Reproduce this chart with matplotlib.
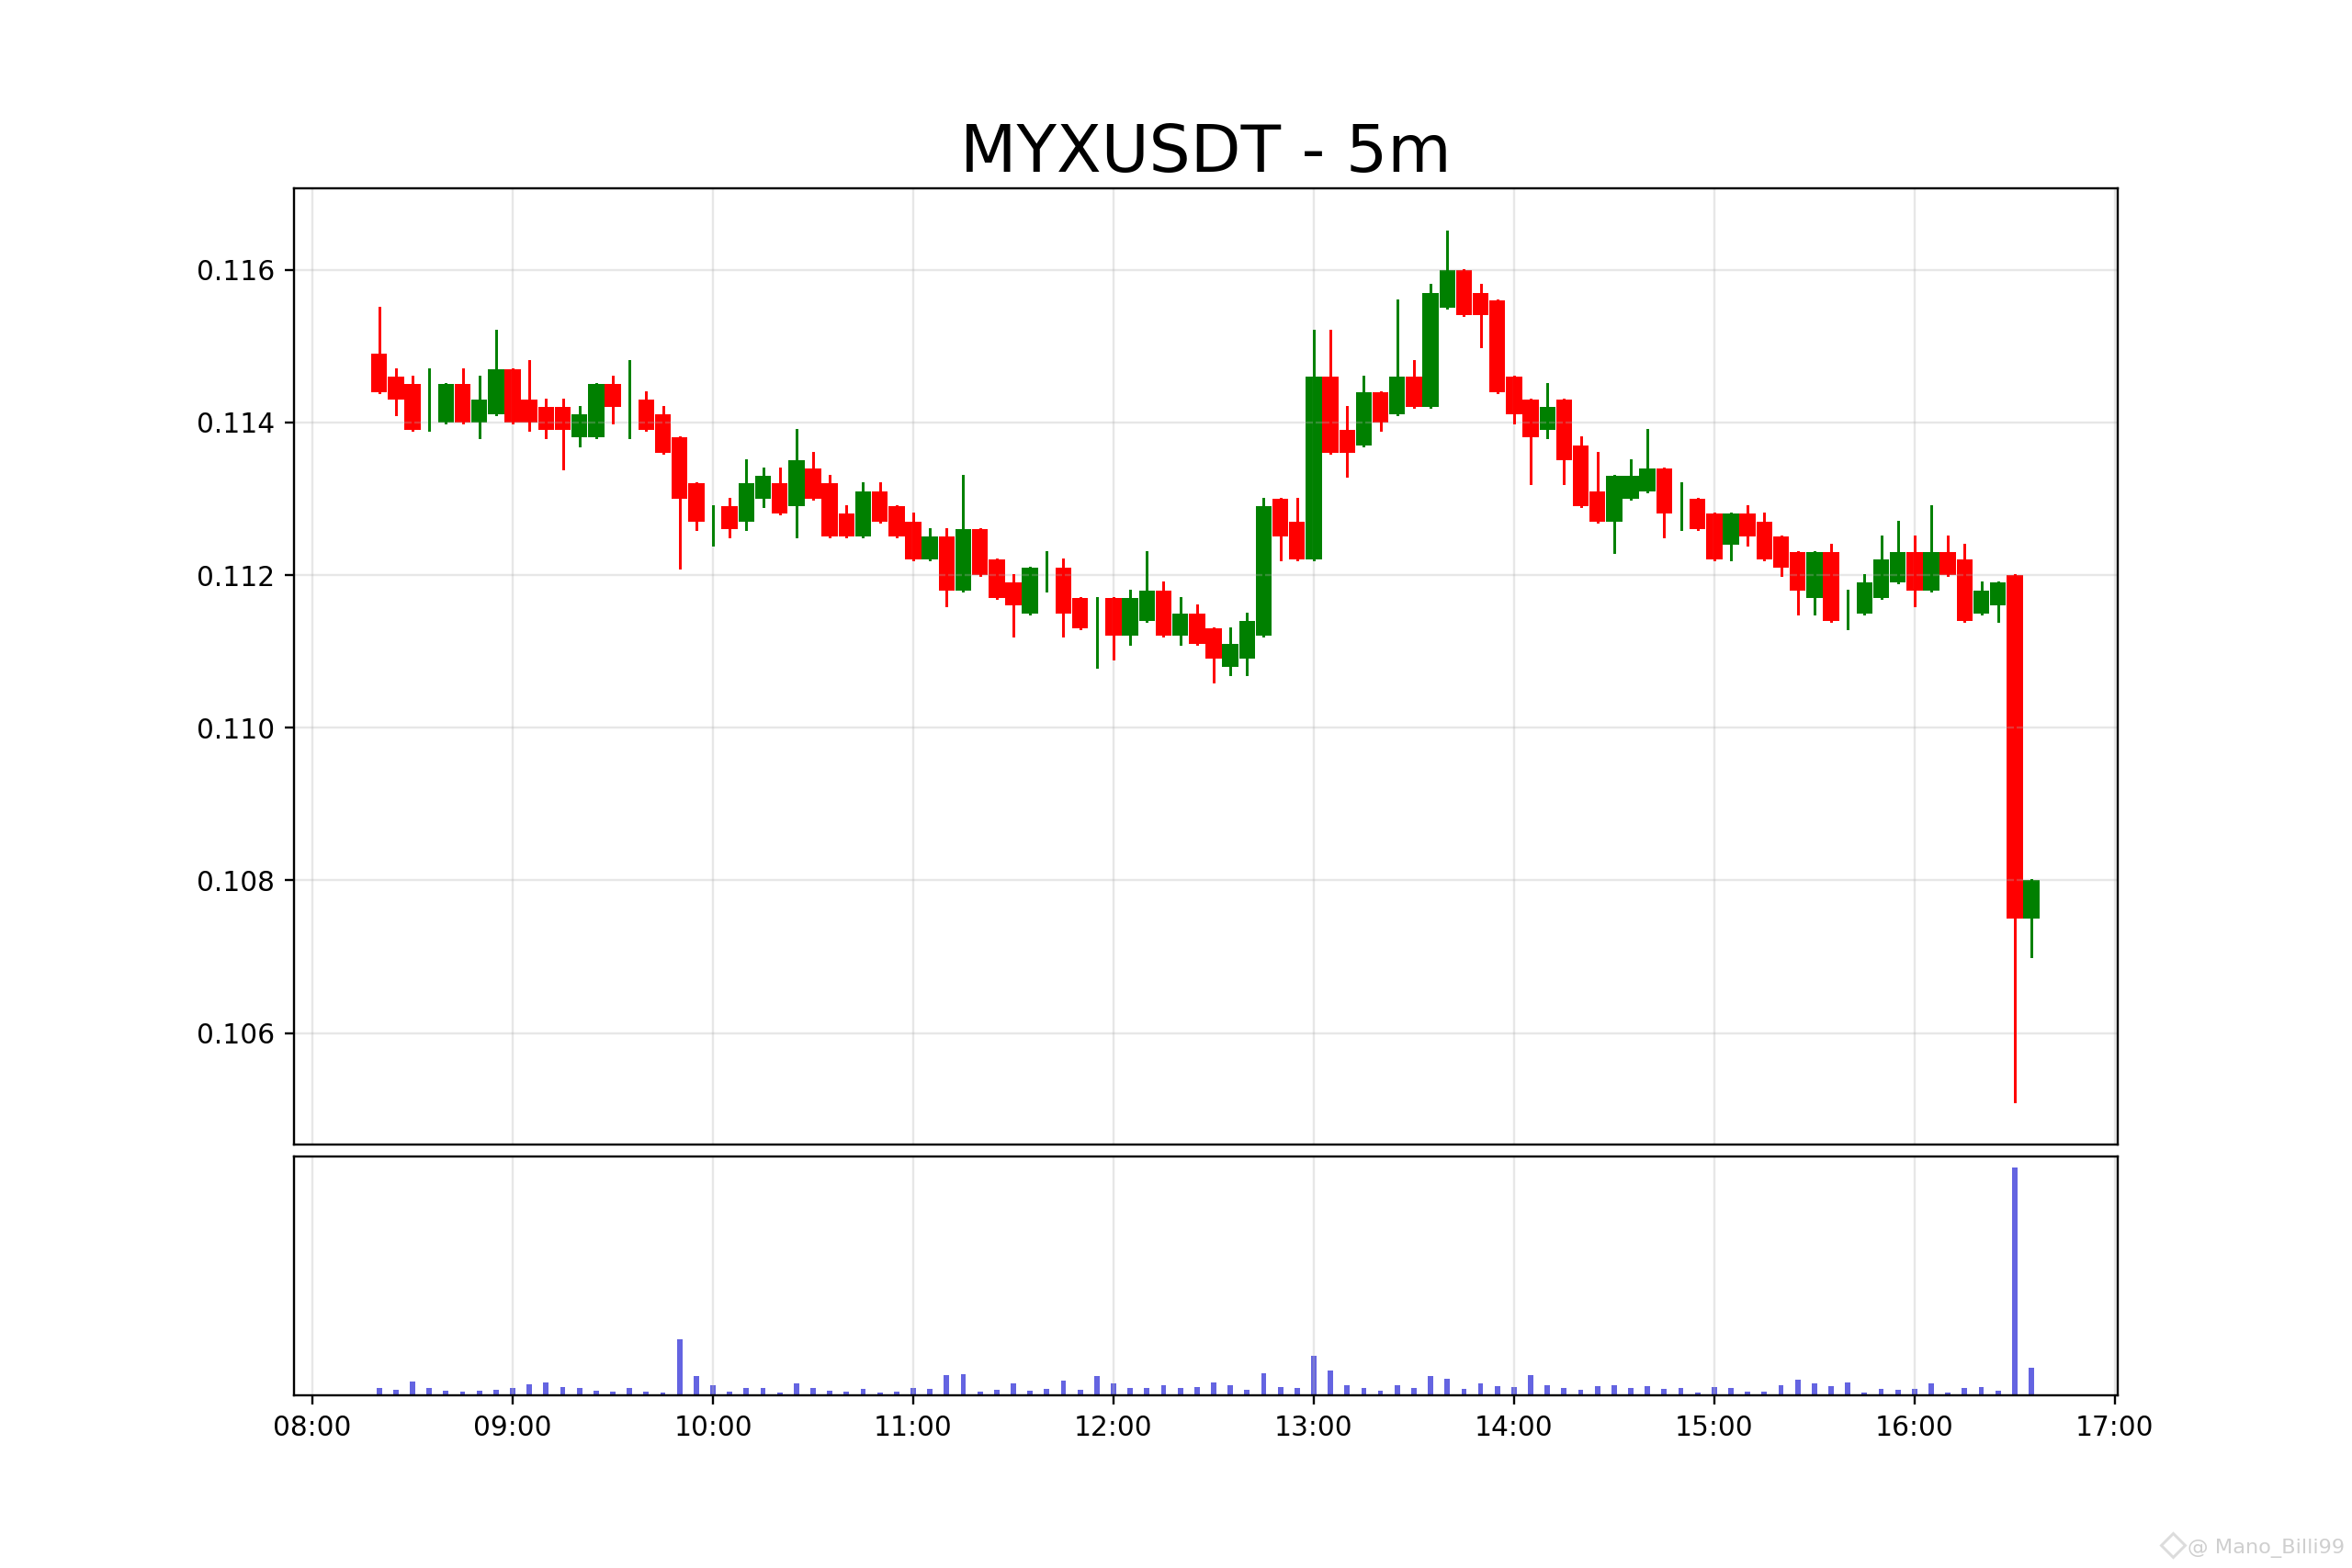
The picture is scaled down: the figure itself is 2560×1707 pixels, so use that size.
import matplotlib
matplotlib.use("Agg")
import matplotlib.pyplot as plt
import matplotlib.dates as mdates
from matplotlib.lines import Line2D
import pandas as pd

symbol = "MYXUSDT"
interval = "5m"

times = pd.date_range("2025-01-01 08:20", periods=100, freq="5min")

opens = [.1149, .1146, .1145, .1143, .1140, .1145, .1140, .1141, .1147, .1143,
         .1142, .1142, .1138, .1138, .1145, .1142, .1143, .1141, .1138, .1132,
         .1127, .1129, .1127, .1130, .1132, .1129, .1134, .1132, .1128, .1125,
         .1131, .1129, .1127, .1122, .1125, .1118, .1126, .1122, .1119, .1115,
         .1121, .1121, .1117, .1113, .1117, .1112, .1114, .1118, .1112, .1115,
         .1113, .1108, .1109, .1112, .1130, .1127, .1122, .1146, .1139, .1137,
         .1144, .1141, .1146, .1142, .1155, .1160, .1157, .1156, .1146, .1143,
         .1139, .1143, .1137, .1131, .1127, .1130, .1131, .1134, .1129, .1130,
         .1128, .1124, .1128, .1127, .1125, .1123, .1117, .1123, .1115, .1115,
         .1117, .1119, .1123, .1118, .1123, .1122, .1115, .1116, .1120, .1075]

closes = [.1144, .1143, .1139, .1143, .1145, .1140, .1143, .1147, .1140, .1140,
          .1139, .1139, .1141, .1145, .1142, .1142, .1139, .1136, .1130, .1127,
          .1127, .1126, .1132, .1133, .1128, .1135, .1130, .1125, .1125, .1131,
          .1127, .1125, .1122, .1125, .1118, .1126, .1120, .1117, .1116, .1121,
          .1121, .1115, .1113, .1113, .1112, .1117, .1118, .1112, .1115, .1111,
          .1109, .1111, .1114, .1129, .1125, .1122, .1146, .1136, .1136, .1144,
          .1140, .1146, .1142, .1157, .1160, .1154, .1154, .1144, .1141, .1138,
          .1142, .1135, .1129, .1127, .1133, .1133, .1134, .1128, .1129, .1126,
          .1122, .1128, .1125, .1122, .1121, .1118, .1123, .1114, .1115, .1119,
          .1122, .1123, .1118, .1123, .1120, .1114, .1118, .1119, .1075, .1080]

highs = [.1155, .1147, .1146, .1147, .1145, .1147, .1146, .1152, .1147, .1148,
         .1143, .1143, .1142, .1145, .1146, .1148, .1144, .1142, .1138, .1132,
         .1129, .1130, .1135, .1134, .1134, .1139, .1136, .1133, .1129, .1132,
         .1132, .1129, .1128, .1126, .1126, .1133, .1126, .1122, .1120, .1121,
         .1123, .1122, .1117, .1117, .1117, .1118, .1123, .1119, .1117, .1116,
         .1113, .1113, .1115, .1130, .1130, .1130, .1152, .1152, .1142, .1146,
         .1144, .1156, .1148, .1158, .1165, .1160, .1158, .1156, .1146, .1143,
         .1145, .1143, .1138, .1136, .1133, .1135, .1139, .1134, .1132, .1130,
         .1128, .1128, .1129, .1128, .1125, .1123, .1123, .1124, .1118, .1120,
         .1125, .1127, .1125, .1129, .1125, .1124, .1119, .1119, .1120, .1080]

lows = [.1144, .1141, .1139, .1139, .1140, .1140, .1138, .1141, .1140, .1139,
        .1138, .1134, .1137, .1138, .1140, .1138, .1139, .1136, .1121, .1126,
        .1124, .1125, .1126, .1129, .1128, .1125, .1130, .1125, .1125, .1125,
        .1127, .1125, .1122, .1122, .1116, .1118, .1120, .1117, .1112, .1115,
        .1118, .1112, .1113, .1108, .1109, .1111, .1114, .1112, .1111, .1111,
        .1106, .1107, .1107, .1112, .1122, .1122, .1122, .1136, .1133, .1137,
        .1139, .1141, .1142, .1142, .1155, .1154, .1150, .1144, .1140, .1132,
        .1138, .1132, .1129, .1127, .1123, .1130, .1131, .1125, .1126, .1126,
        .1122, .1122, .1124, .1122, .1120, .1115, .1115, .1114, .1113, .1115,
        .1117, .1119, .1116, .1118, .1120, .1114, .1115, .1114, .1051, .1070]

volumes = [23, 17, 45, 24, 15, 12, 15, 18, 23, 36,
           42, 27, 23, 15, 12, 24, 12, 9, 180, 63,
           32, 12, 23, 23, 9, 38, 23, 15, 12, 21,
           9, 12, 23, 21, 66, 68, 12, 18, 39, 15,
           21, 48, 17, 63, 39, 24, 23, 33, 23, 27,
           42, 32, 17, 72, 27, 24, 129, 81, 33, 24,
           16, 33, 24, 62, 54, 21, 39, 30, 27, 66,
           32, 24, 18, 30, 33, 23, 30, 21, 23, 9,
           27, 24, 12, 12, 33, 51, 38, 30, 42, 9,
           21, 18, 21, 38, 9, 23, 27, 16, 732, 89]

x_values = mdates.date2num(times)
minute = 1 / (24 * 60)

fig, (ax_price, ax_volume) = plt.subplots(2, 1, figsize=(12, 8), sharex=True,
                                          gridspec_kw={"height_ratios": [4, 1], "hspace": 0.02})

# candles
for x, o, h, l, c in zip(x_values, opens, highs, lows, closes):
    color = "green" if c >= o else "red"
    ax_price.plot([x, x], [l, h], color=color, linewidth=1)
    ax_price.bar(x, abs(c - o), bottom=min(o, c), width=4.8 * minute, color=color)

ax_volume.bar(x_values, volumes, width=1.6 * minute, color="#6464e1")

ax_price.set_title(f"{symbol} - {interval}", fontsize=24)
ax_price.set_ylim(0.10454, 0.11707)
ax_price.grid(True, alpha=0.3)
ax_volume.grid(True, alpha=0.3)
ax_volume.set_yticks([])

start = mdates.date2num(pd.Timestamp("2025-01-01 08:00"))
end = mdates.date2num(pd.Timestamp("2025-01-01 17:00"))
ax_volume.xaxis.set_major_locator(mdates.HourLocator())
ax_volume.xaxis.set_major_formatter(mdates.DateFormatter("%H:%M"))
ax_volume.set_xlim(start - 5.5 * minute, end + 0.8 * minute)
ax_price.tick_params(axis="x", bottom=False, labelbottom=False)

# site watermark, bottom right
fig.text(0.9965, 0.0096, "@ Mano_Billi99", ha="right", va="baseline", fontsize=7.6, color="#cfcfcf")
fig.add_artist(Line2D([0.9234], [0.0146], transform=fig.transFigure, marker="D", markersize=6,
                      markerfacecolor="none", markeredgecolor="#dcdcdc", markeredgewidth=1))

fig.savefig("out.png", dpi=213.4)
